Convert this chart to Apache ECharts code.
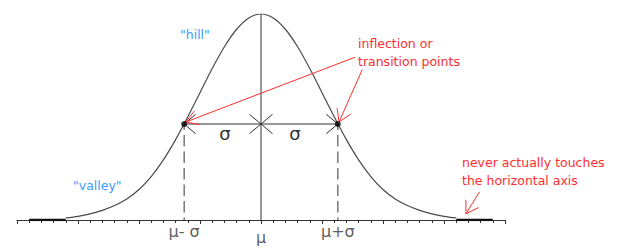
<!DOCTYPE html>
<html><head><meta charset="utf-8">
<script src="https://cdn.jsdelivr.net/npm/echarts@6/dist/echarts.min.js"></script>
<style>html,body{margin:0;padding:0;background:#fff}#c{width:618px;height:249px}</style>
</head><body><div id="c"></div>
<script>
// x in axis-tick units (mu = 0), y as fraction of the peak height
const curveX = [-16,-15,-14,-13,-12,-11,-10,-9,-8,-7,-6,-5,-4,-3,-2,-1,0,1,2,3,4,5,6,7,8,9,10,11,12,13,14,15,16];
const curveY = [0.010,0.018,0.030,0.047,0.070,0.102,0.148,0.211,0.292,0.390,0.501,0.618,0.735,0.841,0.926,0.981,1.000,0.981,0.926,0.841,0.735,0.618,0.501,0.390,0.292,0.211,0.148,0.102,0.070,0.047,0.030,0.018,0.010];
const axisMin = -20, axisMax = 20;
const muX = 0, peakY = 1.0;
const sigmaX = 6.3, inflY = 0.466;
const markX = [-6.3, 0, 6.3];
const markLabels = ['μ- σ', 'μ', 'μ+σ'];
const tailSegments = [[-19, -16], [16, 19]];
const dimArrows = [[-6.3, 0.466, 0, 0.466], [0, 0.466, 6.3, 0.466]];
const redArrows = [[7.7, 0.79, -6.15, 0.476], [8.3, 0.73, 6.4, 0.476], [17.9, 0.136, 16.8, 0.03]];

const curveData = curveX.map((x, i) => [x, curveY[i]]);

function arrowRender(headLen, halfAngle, bothEnds, color) {
  return function (params, api) {
    const a = api.coord([api.value(0), api.value(1)]);
    const b = api.coord([api.value(2), api.value(3)]);
    const head = (tip, from) => {
      const ang = Math.atan2(from[1] - tip[1], from[0] - tip[0]);
      const p1 = [tip[0] + headLen * Math.cos(ang + halfAngle), tip[1] + headLen * Math.sin(ang + halfAngle)];
      const p2 = [tip[0] + headLen * Math.cos(ang - halfAngle), tip[1] + headLen * Math.sin(ang - halfAngle)];
      return { type: 'polyline', shape: { points: [p1, tip, p2] }, style: { stroke: color, fill: null, lineWidth: 1 } };
    };
    const children = [{ type: 'line', shape: { x1: a[0], y1: a[1], x2: b[0], y2: b[1] }, style: { stroke: color, lineWidth: 1 } }];
    children.push(head(b, a));
    if (bothEnds) children.push(head(a, b));
    return { type: 'group', children: children };
  };
}

const chart = echarts.init(document.getElementById('c'), null, { renderer: 'svg' });
const font = '"DejaVu Sans", sans-serif';
const series = [];
// vertical line at mu
series.push({ type: 'line', data: [[muX, -0.015], [muX, peakY]], symbol: 'none', lineStyle: { color: '#333', width: 1 }, z: 2 });
// dashed verticals at mu +/- sigma
[-sigmaX, sigmaX].forEach(x => {
  series.push({ type: 'line', data: [[x, 0], [x, inflY]], symbol: 'none', lineStyle: { color: '#333', width: 1, type: [11.5, 5], dashOffset: 8.5 }, z: 2 });
});
// curve
series.push({ type: 'line', data: curveData, symbol: 'none', smooth: 0.3, lineStyle: { color: '#4a4a4a', width: 1.2 }, z: 3 });
// thick tails along the axis
tailSegments.forEach(s => {
  series.push({ type: 'line', data: [[s[0], 0], [s[1], 0]], symbol: 'none', lineStyle: { color: '#111', width: 2.5 }, z: 4 });
});
// dimension arrows
series.push({ type: 'custom', renderItem: arrowRender(15, 40 * Math.PI / 180, true, '#333'), data: dimArrows, encode: { x: [0, 2], y: [1, 3] }, z: 5 });
// red arrows
series.push({ type: 'custom', renderItem: arrowRender(14, 32 * Math.PI / 180, false, '#ff2e2e'), data: redArrows, encode: { x: [0, 2], y: [1, 3] }, z: 6 });
// inflection dots
series.push({ type: 'scatter', data: [[-sigmaX, inflY], [sigmaX, inflY]], symbol: 'circle', symbolSize: 6, itemStyle: { color: '#000' }, z: 7 });
// axis labels
series.push({
  type: 'scatter', symbolSize: 1, itemStyle: { color: 'rgba(0,0,0,0)' }, z: 7, silent: true,
  data: markX.map((x, i) => ({ value: [x, 0], label: { formatter: markLabels[i], distance: i === 1 ? 9 : 3 } })),
  label: { show: true, position: 'bottom', color: '#333', fontSize: 16, fontFamily: font }
});

chart.setOption({
  animation: false,
  grid: { left: 17, right: 113, top: 14, bottom: 29 },
  xAxis: [
    { type: 'value', min: axisMin, max: axisMax, interval: 1,
      axisLine: { lineStyle: { color: '#333', width: 1 } },
      axisTick: { show: true, length: 3, lineStyle: { color: '#333' } },
      axisLabel: { show: false }, splitLine: { show: false } },
    { type: 'value', min: axisMin, max: axisMax, interval: 5, position: 'bottom',
      axisLine: { show: false },
      axisTick: { show: true, length: 4, lineStyle: { color: '#333' } },
      axisLabel: { show: false }, splitLine: { show: false } }
  ],
  yAxis: { type: 'value', min: 0, max: peakY, show: false },
  series: series,
  graphic: [
    { type: 'text', x: 180, y: 34, style: { text: '"hill"', fill: '#3d9bff', font: '12.5px ' + font, textVerticalAlign: 'middle' } },
    { type: 'text', x: 73, y: 185, style: { text: '"valley"', fill: '#3d9bff', font: '12.5px ' + font, textVerticalAlign: 'middle' } },
    { type: 'text', x: 358, y: 34, style: { text: 'inflection or\ntransition points', fill: '#ff2e2e', font: '12.5px ' + font, lineHeight: 18, textVerticalAlign: 'top' } },
    { type: 'text', x: 462, y: 153, style: { text: 'never actually touches\nthe horizontal axis', fill: '#ff2e2e', font: '12.5px ' + font, lineHeight: 18, textVerticalAlign: 'top' } },
    { type: 'text', x: 225, y: 133, style: { text: 'σ', fill: '#333', font: '18px ' + font, textAlign: 'center', textVerticalAlign: 'middle' } },
    { type: 'text', x: 295, y: 133, style: { text: 'σ', fill: '#333', font: '18px ' + font, textAlign: 'center', textVerticalAlign: 'middle' } }
  ]
});
</script></body></html>
